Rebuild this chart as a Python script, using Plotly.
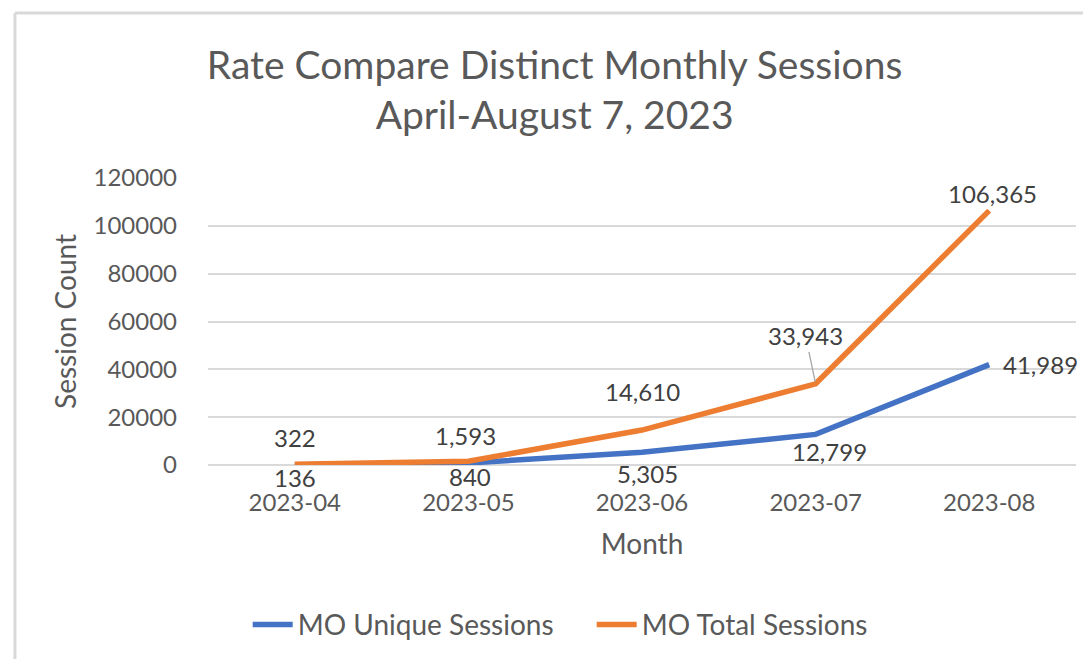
import plotly.graph_objects as go

months = ["2023-04", "2023-05", "2023-06", "2023-07", "2023-08"]
unique_sessions = [136, 840, 5305, 12799, 41989]
total_sessions = [322, 1593, 14610, 33943, 106365]
y_ticks = [0, 20000, 40000, 60000, 80000, 100000, 120000]

BLUE = "#4472C4"
ORANGE = "#ED7D31"
GRID = "#D9D9D9"
TXT = "#595959"
LBL = "#404040"
FONT = "Lato"

# label placement offsets (pixels) for each point
total_off = [(0, 27), (-3, 26), (0, 39), None, (3, 17)]
unique_off = [(0, -13), (2, -14), (5, -21), (14, -17), (51, 0)]

fig = go.Figure()
fig.add_trace(go.Scatter(x=months, y=unique_sessions, mode="lines", name="MO Unique Sessions",
                         line=dict(color=BLUE, width=5.5)))
fig.add_trace(go.Scatter(x=months, y=total_sessions, mode="lines", name="MO Total Sessions",
                         line=dict(color=ORANGE, width=5.5)))

ann = []
for m, v, off in zip(months, total_sessions, total_off):
    if off is None:
        ann.append(dict(x=m, y=v, xref="x", yref="y", text=f"{v:,}", showarrow=True,
                        ax=-10, ay=-48, arrowhead=0, arrowwidth=1.3, arrowcolor="#A6A6A6",
                        standoff=2, font=dict(family=FONT, size=24, color=LBL)))
    else:
        ann.append(dict(x=m, y=v, xref="x", yref="y", text=f"{v:,}", showarrow=False,
                        xshift=off[0], yshift=off[1], font=dict(family=FONT, size=24, color=LBL)))
for m, v, off in zip(months, unique_sessions, unique_off):
    ann.append(dict(x=m, y=v, xref="x", yref="y", text=f"{v:,}", showarrow=False,
                    xshift=off[0], yshift=off[1], font=dict(family=FONT, size=24, color=LBL)))

fig.update_layout(
    width=1091, height=659, autosize=False,
    paper_bgcolor="white", plot_bgcolor="white",
    margin=dict(l=200, r=23, t=170, b=202),
    font=dict(family=FONT, color=TXT),
    title=dict(text="Rate Compare Distinct Monthly Sessions<br>April-August 7, 2023",
               x=0.501, xref="container", xanchor="center",
               y=0.893, yref="container", yanchor="top",
               font=dict(family=FONT, size=39, color=TXT)),
    xaxis=dict(type="category", range=[-0.5, 4.5], showgrid=False, showline=False, zeroline=False,
               ticks="", ticklabelstandoff=21, tickfont=dict(family=FONT, size=24, color=TXT),
               title=dict(text="Month", standoff=19, font=dict(family=FONT, size=28, color=TXT))),
    yaxis=dict(range=[0, 120000], tickvals=y_ticks, ticktext=[str(t) for t in y_ticks],
               showgrid=True, gridcolor=GRID, gridwidth=1.5,
               zeroline=True, zerolinecolor=GRID, zerolinewidth=1.5, showline=False,
               ticks="", ticklabelstandoff=30, tickfont=dict(family=FONT, size=24, color=TXT),
               title=dict(text="Session Count", standoff=8, font=dict(family=FONT, size=28, color=TXT))),
    legend=dict(orientation="h", xref="container", yref="container", x=0.535, y=0.064,
                xanchor="center", yanchor="middle", font=dict(family=FONT, size=28, color=TXT),
                itemwidth=40, tracegroupgap=0, entrywidth=289, entrywidthmode="pixels"),
    annotations=ann,
    shapes=[
        dict(type="line", xref="paper", yref="paper", x0=-0.2224, x1=1.03, y0=1.5749, y1=1.5749,
             line=dict(color=GRID, width=3)),
        dict(type="line", xref="paper", yref="paper", x0=-0.2224, x1=-0.2224, y0=1.5749, y1=-0.71,
             line=dict(color=GRID, width=3)),
    ],
    showlegend=True,
)

fig.write_html("out.html")
